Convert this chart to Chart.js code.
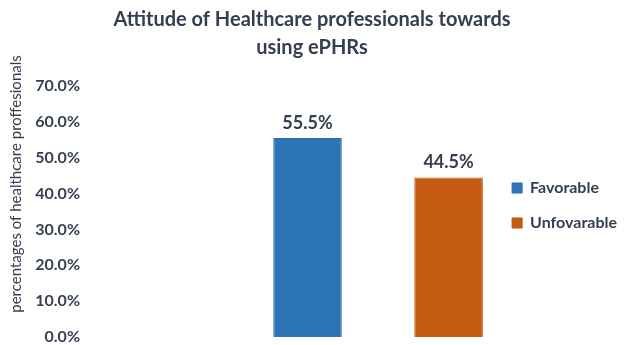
<!DOCTYPE html>
<html>
<head>
<meta charset="utf-8">
<script src="https://cdn.jsdelivr.net/npm/chart.js@4/dist/chart.umd.min.js"></script>
<style>
html,body{margin:0;padding:0;background:#fff;}
#wrap{width:624px;height:345px;position:relative;}
</style>
</head>
<body>
<div id="wrap"><canvas id="c" width="624" height="345"></canvas></div>
<script>
const categories = ['Favorable', 'Unfovarable'];
const favorableValues = [55.5, null];
const unfavorableValues = [null, 44.5];
const yTicks = [0, 10, 20, 30, 40, 50, 60, 70];
const titleLines = ['Attitude of Healthcare professionals towards', 'using ePHRs'];
const yAxisTitle = 'percentages of healthcare proffesionals';

const TEXT = '#333F50';
const FONT = 'Lato, "Open Sans", sans-serif';

const valueLabels = {
  id: 'valueLabels',
  afterDatasetsDraw(chart) {
    const ctx = chart.ctx;
    ctx.save();
    ctx.font = 'bold 18px ' + FONT;
    ctx.fillStyle = TEXT;
    ctx.textAlign = 'center';
    ctx.textBaseline = 'bottom';
    chart.data.datasets.forEach((ds, i) => {
      const meta = chart.getDatasetMeta(i);
      meta.data.forEach((el, j) => {
        const v = ds.data[j];
        if (v === null || v === undefined) return;
        ctx.fillText(v.toFixed(1) + '%', el.x, el.y - 6);
      });
    });
    ctx.restore();
  }
};

const yTitle = {
  id: 'yTitle',
  afterDraw(chart) {
    const ctx = chart.ctx;
    ctx.save();
    ctx.font = '15px ' + FONT;
    ctx.fillStyle = TEXT;
    ctx.textAlign = 'center';
    ctx.textBaseline = 'middle';
    ctx.translate(16, 184);
    ctx.rotate(-Math.PI / 2);
    ctx.fillText(yAxisTitle, 0, 0);
    ctx.restore();
  }
};

// move the right-hand legend next to the plot and centre the title on the canvas
const legendPlace = {
  id: 'legendPlace',
  afterLayout(chart) {
    const lg = chart.legend;
    const dx = -26, dy = 33;
    lg.left += dx; lg.right += dx;
    lg.top += dy; lg.bottom += dy;
    const tb = chart.titleBlock;
    tb.left = 0; tb.right = chart.width;
  }
};

new Chart(document.getElementById('c'), {
  type: 'bar',
  data: {
    labels: categories,
    datasets: [
      { label: categories[0], data: favorableValues, backgroundColor: '#2E75B6', borderColor: '#2A6DAE', borderWidth: 1 },
      { label: categories[1], data: unfavorableValues, backgroundColor: '#C55A11', borderColor: '#BE5310', borderWidth: 1 }
    ]
  },
  options: {
    responsive: false,
    animation: false,
    devicePixelRatio: 1,
    skipNull: true,
    categoryPercentage: 1,
    barPercentage: 0.486,
    layout: { padding: { left: 0, right: -29, top: 0, bottom: 0 } },
    plugins: {
      title: {
        display: true,
        text: titleLines,
        color: TEXT,
        font: { family: FONT, size: 20, weight: 'bold', lineHeight: 1.4 },
        padding: { top: 6, bottom: 24 }
      },
      legend: {
        position: 'right',
        labels: {
          color: TEXT,
          font: { family: FONT, size: 16, weight: 'bold' },
          boxWidth: 10,
          boxHeight: 10,
          padding: 19
        }
      },
      tooltip: { enabled: false }
    },
    scales: {
      x: { display: false },
      y: {
        min: 0,
        max: 70,
        afterFit(scale) { scale.width = 237; scale.paddingTop = 9; scale.paddingBottom = 8; },
        afterBuildTicks(scale) { scale.ticks = yTicks.map(v => ({ value: v })); },
        grid: { display: false, drawTicks: false },
        border: { display: false },
        ticks: {
          padding: 157,
          color: TEXT,
          font: { family: FONT, size: 16, weight: 'bold' },
          callback: v => v.toFixed(1) + '%'
        }
      }
    }
  },
  plugins: [valueLabels, yTitle, legendPlace]
});
</script>
</body>
</html>
